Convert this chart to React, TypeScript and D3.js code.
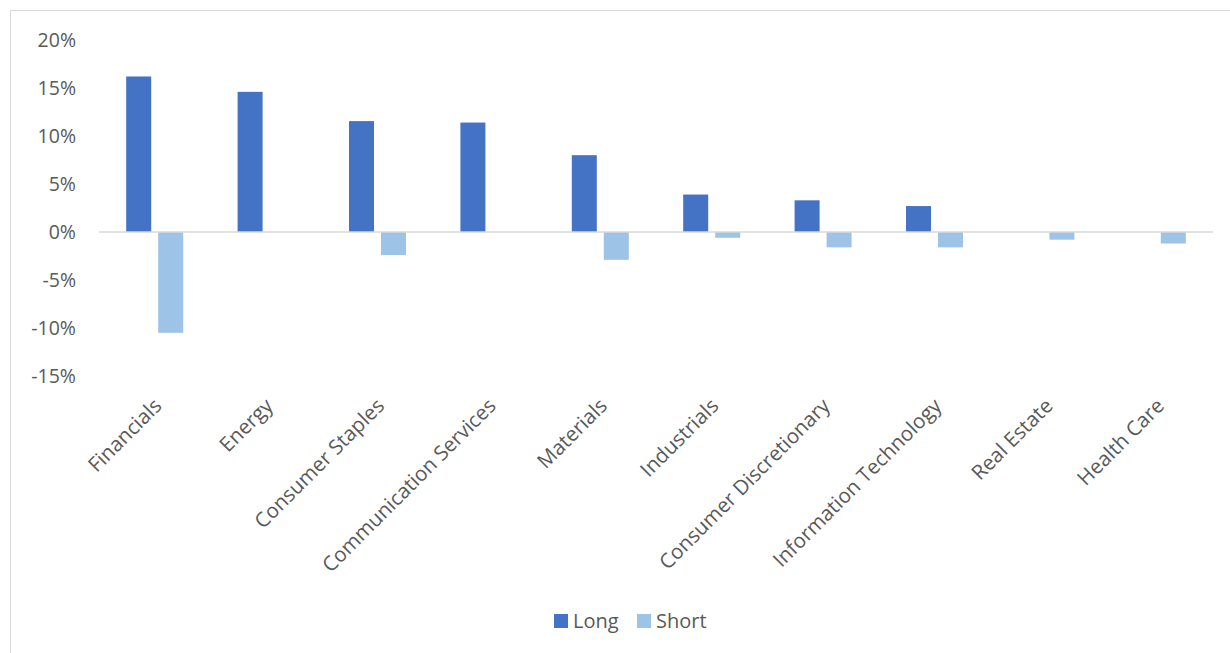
import { useEffect, useRef } from 'react';
import * as d3 from 'd3';

const sectors = [
    'Financials', 'Energy', 'Consumer Staples', 'Communication Services', 'Materials',
    'Industrials', 'Consumer Discretionary', 'Information Technology', 'Real Estate', 'Health Care',
];
const longValues = [16.2, 14.6, 11.55, 11.4, 8.0, 3.9, 3.3, 2.7, 0, 0];
const shortValues = [-10.5, 0, -2.4, 0, -2.9, -0.6, -1.6, -1.6, -0.8, -1.2];
const yTicks = [20, 15, 10, 5, 0, -5, -10, -15];
const seriesNames = ['Long', 'Short'];
const seriesColors = ['#4472C4', '#9DC3E6'];

const W = 1230;
const H = 653;
const FONT = '"Open Sans", "Noto Sans", sans-serif';

export default function App() {
    const svgRef = useRef<SVGSVGElement>(null);

    useEffect(() => {
        if (!svgRef.current) return;
        const svg = d3.select(svgRef.current);
        svg.selectAll('*').remove();

        // chart frame (runs off the right and bottom edge)
        svg.append('rect')
            .attr('x', 10.5).attr('y', 10.5)
            .attr('width', W).attr('height', H)
            .attr('fill', 'white')
            .attr('stroke', '#d9d9d9');

        const x = d3.scaleBand().domain(sectors).range([99, 1213]);
        const y = d3.scaleLinear().domain([-15, 20]).range([376, 40]);

        // bars: ~25px wide, with a small gap between the pair
        const barW = 25;
        const gap = 7;
        const offsets = [-(gap / 2 + barW), gap / 2];
        const series = [longValues, shortValues];

        series.forEach((vals, si) => {
            svg.append('g')
                .selectAll('rect')
                .data(vals.map((v, i) => ({ v, s: sectors[i] })))
                .enter()
                .append('rect')
                .attr('x', d => (x(d.s) as number) + x.bandwidth() / 2 + offsets[si])
                .attr('y', d => y(Math.max(0, d.v)))
                .attr('width', barW)
                .attr('height', d => Math.abs(y(d.v) - y(0)))
                .attr('fill', seriesColors[si]);
        });

        // zero line
        svg.append('line')
            .attr('x1', 99).attr('x2', 1213)
            .attr('y1', y(0)).attr('y2', y(0))
            .attr('stroke', '#d9d9d9')
            .attr('stroke-width', 1.5);

        // y axis labels
        svg.append('g')
            .selectAll('text')
            .data(yTicks)
            .enter()
            .append('text')
            .attr('x', 76)
            .attr('y', d => y(d))
            .attr('dy', '0.35em')
            .attr('text-anchor', 'end')
            .attr('font-family', FONT)
            .attr('font-size', 19.5)
            .attr('fill', '#595959')
            .text(d => `${d}%`);

        // x axis labels, rotated
        svg.append('g')
            .selectAll('text')
            .data(sectors)
            .enter()
            .append('text')
            .attr('transform', d => `translate(${(x(d) as number) + x.bandwidth() / 2 - 2},${397}) rotate(-45)`)
            .attr('text-anchor', 'end')
            .attr('dy', '0.7em')
            .attr('font-family', FONT)
            .attr('font-size', 20.5)
            .attr('fill', '#595959')
            .text(d => d);

        // legend
        const legend = svg.append('g');
        const legendX = [554, 637];
        seriesNames.forEach((name, i) => {
            legend.append('rect')
                .attr('x', legendX[i]).attr('y', 614)
                .attr('width', 14).attr('height', 14)
                .attr('fill', seriesColors[i]);
            legend.append('text')
                .attr('x', legendX[i] + 19)
                .attr('y', 621)
                .attr('dy', '0.35em')
                .attr('font-family', FONT)
                .attr('font-size', 20)
                .attr('fill', '#595959')
                .text(name);
        });
    }, []);

    return (
        <div style={{ position: 'absolute', left: 0, top: 0, width: W, height: H, overflow: 'hidden', background: 'white' }}>
            <svg ref={svgRef} width={W} height={H} />
        </div>
    );
}
